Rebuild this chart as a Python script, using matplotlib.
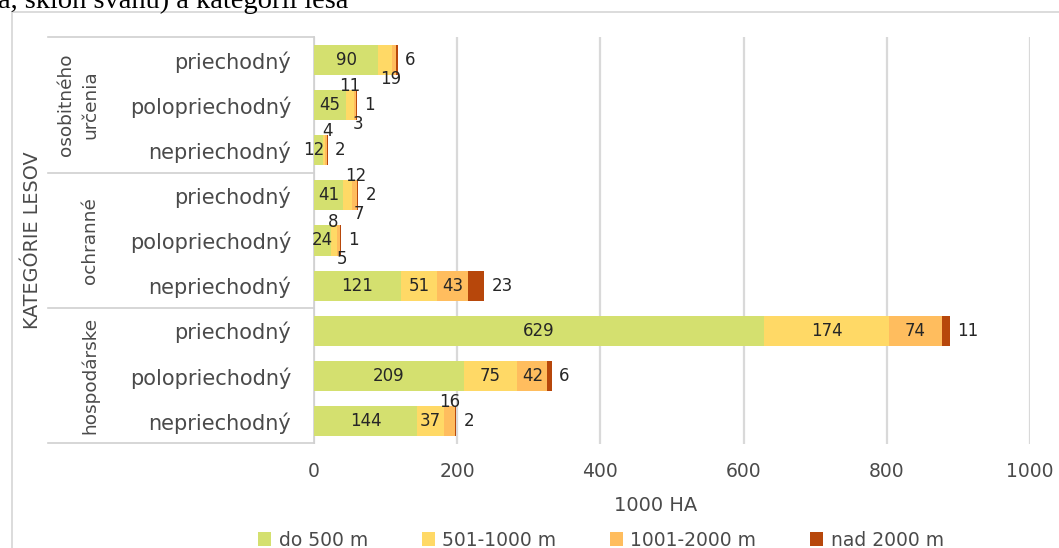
import numpy as np
import matplotlib
matplotlib.use("Agg")
import matplotlib.pyplot as plt
from matplotlib.patches import Patch, Rectangle
from matplotlib.lines import Line2D
from matplotlib.transforms import blended_transform_factory

# rows listed top to bottom
groups = ["osobitného\nurčenia", "ochranné", "hospodárske"]
rows = ["priechodný", "polopriechodný", "nepriechodný"] * 3
series = ["do 500 m", "501-1000 m", "1001-2000 m", "nad 2000 m"]
do_500 = [90, 45, 12, 41, 24, 121, 629, 209, 144]
m_501_1000 = [19, 11, 4, 12, 8, 51, 174, 75, 37]
m_1001_2000 = [6, 3, 2, 7, 5, 43, 74, 42, 16]
nad_2000 = [2, 1, 1, 2, 1, 23, 11, 6, 2]
title_text = "a, sklon svahu) a kategórii lesa"

colors = ["#D4E06F", "#FFD966", "#FFBD5E", "#B7470B"]
txt = "#4A4A4A"
W, H = 1059, 548

# where each data label sits: in / up / down / right / None (hidden), plus x nudge in px
label_mode = [
    ["in", "down", "right", None],
    ["in", "up", "down", "right"],
    ["in", "up", "right", None],
    ["in", "up", "down", "right"],
    ["in", "up", "down", "right"],
    ["in", "in", "in", "right"],
    ["in", "in", "in", "right"],
    ["in", "in", "in", "right"],
    ["in", "in", "up", "right"],
]
label_dx = {(0, 1): 5, (2, 0): -5, (2, 1): 3, (3, 1): 8, (3, 2): 4,
            (1, 2): 3, (4, 2): 3, (4, 1): -1}

fig = plt.figure(figsize=(W / 100, H / 100), dpi=100)
ax = fig.add_axes([314 / W, 1 - 443.5 / H, 716 / W, 406 / H])

vals = np.array([do_500, m_501_1000, m_1001_2000, nad_2000], dtype=float)
y = np.arange(len(rows))
left = np.zeros(len(rows))
for k in range(4):
    ax.barh(y, vals[k], left=left, height=0.667, color=colors[k], label=series[k], zorder=3)
    for i in range(len(rows)):
        mode = label_mode[i][k]
        if mode is None:
            continue
        v = vals[k][i]
        cx = left[i] + v / 2
        dx = label_dx.get((i, k), 0) * 72 / 100
        s = f"{int(v)}"
        if mode == "in":
            ax.annotate(s, (cx, y[i]), xytext=(dx, 0), textcoords="offset points",
                        ha="center", va="center", fontsize=12, color="#262626", zorder=4)
        elif mode == "up":
            ax.annotate(s, (cx, y[i] - 0.42), xytext=(dx, 0), textcoords="offset points",
                        ha="center", va="center", fontsize=12, color="#262626", zorder=4)
        elif mode == "down":
            ax.annotate(s, (cx, y[i] + 0.42), xytext=(dx, 0), textcoords="offset points",
                        ha="center", va="center", fontsize=12, color="#262626", zorder=4)
        else:
            end = vals[:, i].sum()
            ax.annotate(s, (end, y[i]), xytext=(5 + dx, 0), textcoords="offset points",
                        ha="left", va="center", fontsize=12, color="#262626", zorder=4)
    left += vals[k]

ax.set_xlim(0, 1000)
ax.set_ylim(len(rows) - 0.5, -0.5)
ax.set_xticks(np.arange(0, 1001, 200))
ax.set_yticks(y)
ax.set_yticklabels(rows)
ax.tick_params(axis="y", length=0, pad=16.5, labelsize=15, labelcolor=txt)
ax.tick_params(axis="x", length=0, pad=13, labelsize=13.5, labelcolor=txt)
ax.grid(axis="x", color="#D9D9D9", linewidth=1.6, zorder=0)
for sp in ["top", "right", "bottom"]:
    ax.spines[sp].set_visible(False)
ax.spines["left"].set_color("#D0D0D0")
ax.spines["left"].set_linewidth(1.2)
ax.set_xlabel("1000 HA", fontsize=14, color=txt)
ax.xaxis.set_label_coords((656 - 314) / 716, -(496 - 443.5) / 406)

# category table lines and group labels
tr = blended_transform_factory(fig.transFigure, ax.transData)
for yb in [-0.5, 2.5, 5.5, 8.5]:
    fig.add_artist(Line2D([48 / W, 314 / W], [yb, yb], transform=tr,
                          color="#D0D0D0", linewidth=1.2))
group_x = [78 / W, 90 / W, 90 / W]
for g, name in enumerate(groups):
    ax.text(group_x[g], 3 * g + 1, name, transform=tr, rotation=90,
            ha="center", va="center", fontsize=13.3, color=txt,
            multialignment="center", linespacing=1.45)
fig.text(33 / W, 1 - 240.5 / H, "KATEGÓRIE LESOV", rotation=90,
         ha="center", va="center", fontsize=13.8, color=txt)

# chart frame (cropped) and title fragment above it
fig.add_artist(Rectangle((12 / W, -0.1), 1.2, 1 - 12 / H + 0.1, transform=fig.transFigure,
                         fill=False, edgecolor="#D9D9D9", linewidth=1.3))
fig.text(-2 / W, 1 - 8 / H, title_text, family="Liberation Serif", fontsize=20.5,
         color="black", va="baseline", ha="left")

handles = [Patch(facecolor=c, edgecolor="none") for c in colors]
fig.legend(handles, series, loc="center", bbox_to_anchor=(601 / W, 1 - 540 / H),
           ncol=4, frameon=False, fontsize=13.5, handlelength=0.7, handleheight=0.7,
           handletextpad=0.4, columnspacing=2.85, labelcolor=txt,
           borderpad=0, borderaxespad=0)

fig.savefig("out.png", dpi=100)
